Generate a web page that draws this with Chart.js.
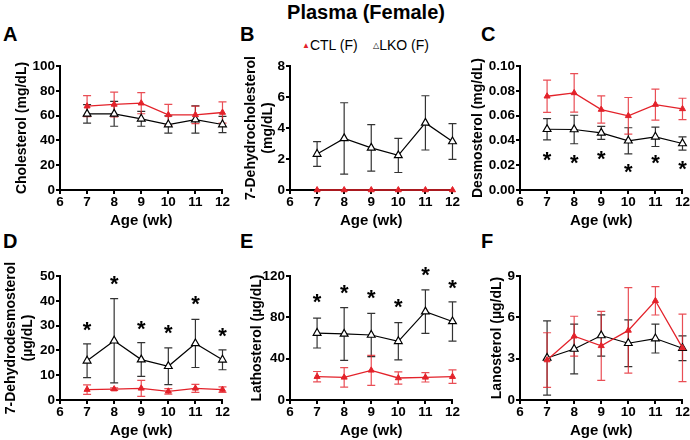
<!DOCTYPE html>
<html>
<head>
<meta charset="utf-8">
<script src="https://cdn.jsdelivr.net/npm/chart.js@4.4.1/dist/chart.umd.min.js"></script>
<style>
  html, body { margin: 0; padding: 0; background: #fff; }
  body { width: 690px; height: 440px; position: relative; overflow: hidden;
         font-family: "Liberation Sans", Arial, sans-serif; }
  .panel { position: absolute; }
  .title { position: absolute; left: 0; width: 732px; top: 0; text-align: center;
           font-weight: bold; font-size: 20px; line-height: 24px; }
  .letter { position: absolute; font-weight: bold; font-size: 20px; line-height: 20px; }
  .legend { position: absolute; left: 302px; top: 36px; font-size: 14px; line-height: 18px; white-space: nowrap; }
  .legend .m { font-size: 8px; vertical-align: 2px; }
</style>
</head>
<body>
<div class="title">Plasma (Female)</div>
<div class="letter" style="left:3px;top:24px">A</div>
<div class="letter" style="left:240px;top:24px">B</div>
<div class="letter" style="left:481px;top:24px">C</div>
<div class="letter" style="left:3px;top:231px">D</div>
<div class="letter" style="left:240px;top:231px">E</div>
<div class="letter" style="left:481px;top:231px">F</div>
<div class="legend"><span class="m" style="color:#e3222a">&#9650;</span>CTL (F)&nbsp;&nbsp;&nbsp;&nbsp;<span class="m">&#9651;</span>LKO (F)</div>

<canvas id="cA" class="panel" width="230" height="190" style="left:0;top:40px"></canvas>
<canvas id="cB" class="panel" width="230" height="190" style="left:230px;top:40px"></canvas>
<canvas id="cC" class="panel" width="230" height="190" style="left:460px;top:40px"></canvas>
<canvas id="cD" class="panel" width="230" height="200" style="left:0;top:240px"></canvas>
<canvas id="cE" class="panel" width="230" height="200" style="left:230px;top:240px"></canvas>
<canvas id="cF" class="panel" width="230" height="200" style="left:460px;top:240px"></canvas>

<script>
(function() {
  'use strict';

  // --- data (age in weeks, mean and SD per group) ---
  var weeks = [7, 8, 9, 10, 11, 12];

  var ctlChol = [67.6, 69, 70, 60.6, 60.6, 62.5];
  var ctlCholErr = [8.5, 10, 8.5, 8.5, 7, 8.5];
  var lkoChol = [61.4, 61.4, 57.4, 52.8, 56.8, 52.8];
  var lkoCholErr = [7.5, 10, 6, 7, 11, 6.5];

  var ctlDhc = [0, 0, 0, 0, 0, 0];
  var ctlDhcErr = [0, 0, 0, 0, 0, 0];
  var lkoDhc = [2.32, 3.33, 2.72, 2.23, 4.33, 3.13];
  var lkoDhcErr = [0.8, 2.3, 1.5, 1.1, 1.75, 1.15];

  var ctlDesmo = [0.0756, 0.0783, 0.0649, 0.0598, 0.0689, 0.0654];
  var ctlDesmoErr = [0.013, 0.0155, 0.011, 0.0148, 0.0125, 0.0086];
  var lkoDesmo = [0.049, 0.0488, 0.0461, 0.0397, 0.0429, 0.0375];
  var lkoDesmoErr = [0.0086, 0.0115, 0.0052, 0.0105, 0.0078, 0.0054];
  var starsDesmo = [0.0292, 0.0268, 0.0295, 0.0188, 0.0268, 0.0214];

  var ctlDhd = [4.2, 4.4, 4.7, 3.5, 4.7, 4.2];
  var ctlDhdErr = [1.9, 0.5, 3.2, 1.1, 1.6, 1.1];
  var lkoDhd = [15.8, 23.9, 16.3, 13.6, 22.8, 16.2];
  var lkoDhdErr = [6.8, 17, 6.8, 7.4, 9.7, 4];
  var starsDhd = [30.5, 48.9, 31.1, 29.5, 41, 28];

  var ctlLath = [22.6, 21.9, 28.7, 21.3, 21.9, 22.6];
  var ctlLathErr = [5, 9.5, 14.5, 6, 4.5, 6.5];
  var lkoLath = [64.8, 63.9, 62.9, 56.8, 85.5, 76];
  var lkoLathErr = [14.5, 25.5, 21, 18, 21, 19];
  var starsLath = [100.6, 109, 104.5, 95.8, 127, 113.5];

  var ctlLano = [2.9, 4.63, 3.93, 5.05, 7.2, 3.78];
  var ctlLanoErr = [1.98, 1.45, 2.5, 3.1, 1.03, 2.45];
  var lkoLano = [3.05, 3.7, 4.68, 4.12, 4.46, 3.76];
  var lkoLanoErr = [2.7, 1.8, 1.5, 1.7, 1.05, 0.9];

  var RED = '#e3222a';
  var FONT = '"Liberation Sans", Arial, sans-serif';

  Chart.defaults.font.family = FONT;
  Chart.defaults.color = '#000';

  /** Vertical SD bars with caps, drawn under the markers */
  var errorBars = {
    id: 'errorBars',
    beforeDatasetsDraw: function(chart) {
      var ctx = chart.ctx, xs = chart.scales.x, ys = chart.scales.y;
      for (var d = chart.data.datasets.length - 1; d >= 0; d--) {
        var ds = chart.data.datasets[d];
        if (!ds.err) continue;
        ctx.save();
        ctx.strokeStyle = ds.errColor;
        ctx.lineWidth = 1.2;
        ds.data.forEach(function(p, i) {
          var e = ds.err[i];
          if (!e) return;
          var px = xs.getPixelForValue(p.x);
          var top = ys.getPixelForValue(p.y + e);
          var bot = ys.getPixelForValue(p.y - e);
          ctx.beginPath();
          ctx.moveTo(px, top); ctx.lineTo(px, bot);
          ctx.moveTo(px - 4, top); ctx.lineTo(px + 4, top);
          ctx.moveTo(px - 4, bot); ctx.lineTo(px + 4, bot);
          ctx.stroke();
        });
        ctx.restore();
      }
    }
  };

  /** Significance asterisks */
  var stars = {
    id: 'stars',
    afterDatasetsDraw: function(chart, args, opts) {
      if (!opts || !opts.values) return;
      var ctx = chart.ctx, xs = chart.scales.x, ys = chart.scales.y;
      var size = 22;
      ctx.save();
      ctx.fillStyle = '#000';
      ctx.font = 'bold ' + size + 'px ' + FONT;
      ctx.textAlign = 'center';
      ctx.textBaseline = 'alphabetic';
      opts.values.forEach(function(v, i) {
        ctx.fillText('*', xs.getPixelForValue(weeks[i]), ys.getPixelForValue(v) + 0.58 * size);
      });
      ctx.restore();
    }
  };

  function points(vals) {
    return weeks.map(function(w, i) { return { x: w, y: vals[i] }; });
  }

  function panel(canvasId, o) {
    var canvas = document.getElementById(canvasId);
    return new Chart(canvas, {
      type: 'line',
      plugins: [errorBars, stars],
      data: {
        datasets: [{
          label: 'CTL (F)',
          data: points(o.ctl),
          err: o.ctlErr,
          errColor: 'rgba(227,34,42,0.8)',
          borderColor: RED,
          backgroundColor: RED,
          borderWidth: 1.3,
          pointStyle: 'triangle',
          pointRadius: 3.5,
          pointBorderWidth: 1,
          clip: false
        }, {
          label: 'LKO (F)',
          data: points(o.lko),
          err: o.lkoErr,
          errColor: 'rgba(0,0,0,0.8)',
          borderColor: '#000',
          backgroundColor: '#fff',
          borderWidth: 1.2,
          pointStyle: 'triangle',
          pointRadius: 4.5,
          pointBorderWidth: 1.2,
          clip: false
        }]
      },
      options: {
        responsive: false,
        animation: false,
        layout: { padding: { top: o.top, right: 7, left: 0, bottom: 0 } },
        plugins: {
          legend: { display: false },
          tooltip: { enabled: false },
          stars: { values: o.stars || null }
        },
        scales: {
          x: {
            type: 'linear',
            min: 6, max: 12,
            afterFit: function(s) { s.height = 40; },
            border: { color: '#000', width: 2 },
            grid: { drawOnChartArea: false, drawTicks: true, tickLength: 4, color: '#000', lineWidth: 2 },
            ticks: { stepSize: 1, padding: 0, maxRotation: 0, font: { size: 13.5, weight: 'bold' }, color: '#000' },
            title: { display: true, text: 'Age (wk)', font: { size: 15, weight: 'bold' }, color: '#000',
                     padding: { top: 0, bottom: o.xPad } }
          },
          y: {
            min: 0, max: o.max,
            afterFit: function(s) { s.width = 60; },
            border: { color: '#000', width: 2 },
            grid: { drawOnChartArea: false, drawTicks: true, tickLength: 4, color: '#000', lineWidth: 2 },
            ticks: {
              stepSize: o.step, padding: 1, font: { size: 13.5, weight: 'bold' }, color: '#000',
              callback: o.fmt || function(v) { return v; }
            },
            title: { display: true, text: o.yTitle, font: { size: 14, weight: 'bold' }, color: '#000',
                     padding: { top: o.yPad, bottom: 0 } }
          }
        }
      }
    });
  }

  panel('cA', { ctl: ctlChol, ctlErr: ctlCholErr, lko: lkoChol, lkoErr: lkoCholErr,
    max: 100, step: 20, yTitle: 'Cholesterol (mg/dL)', yPad: 13.6, top: 26, xPad: 0 });
  panel('cB', { ctl: ctlDhc, ctlErr: ctlDhcErr, lko: lkoDhc, lkoErr: lkoDhcErr,
    max: 8, step: 2, yTitle: ['7-Dehydrocholesterol', '(mg/dL)'], yPad: 13, top: 26, xPad: 0 });
  panel('cC', { ctl: ctlDesmo, ctlErr: ctlDesmoErr, lko: lkoDesmo, lkoErr: lkoDesmoErr, stars: starsDesmo,
    max: 0.1, step: 0.02, fmt: function(v) { return v.toFixed(2); },
    yTitle: 'Desmosterol (mg/dL)', yPad: 9.6, top: 26, xPad: 0 });
  panel('cD', { ctl: ctlDhd, ctlErr: ctlDhdErr, lko: lkoDhd, lkoErr: lkoDhdErr, stars: starsDhd,
    max: 50, step: 10, yTitle: ['7-Dehydrodesmosterol', '(\u00b5g/dL)'], yPad: 2.6, top: 36, xPad: 0.5 });
  panel('cE', { ctl: ctlLath, ctlErr: ctlLathErr, lko: lkoLath, lkoErr: lkoLathErr, stars: starsLath,
    max: 120, step: 40, yTitle: 'Lathosterol (\u00b5g/dL)', yPad: 18.6, top: 36, xPad: 0.5 });
  panel('cF', { ctl: ctlLano, ctlErr: ctlLanoErr, lko: lkoLano, lkoErr: lkoLanoErr,
    max: 9, step: 3, yTitle: 'Lanosterol (\u00b5g/dL)', yPad: 28.6, top: 36, xPad: 0.5 });
})();
</script>
</body>
</html>
